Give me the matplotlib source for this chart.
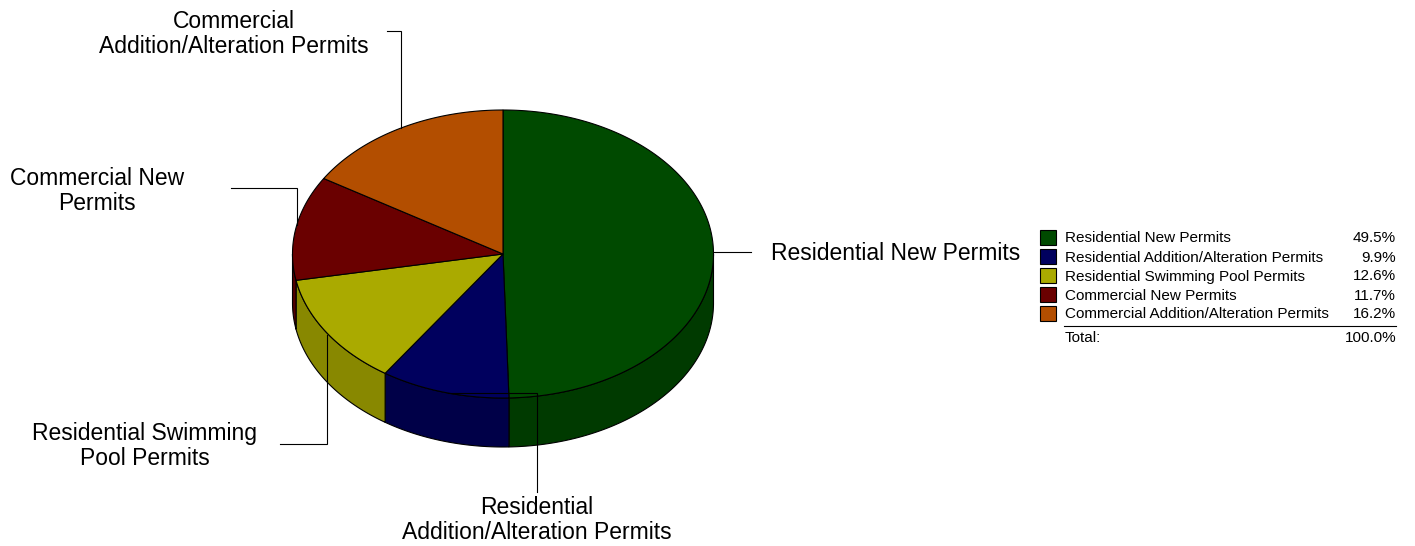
import numpy as np
import matplotlib
matplotlib.use('Agg')
import matplotlib.pyplot as plt
from matplotlib.patches import Polygon, Rectangle

plt.rcParams['font.family'] = ['Liberation Sans', 'DejaVu Sans']

categories = ['Residential New Permits', 'Residential Addition/Alteration Permits',
              'Residential Swimming Pool Permits', 'Commercial New Permits',
              'Commercial Addition/Alteration Permits']
shares = [49.5, 9.9, 12.6, 11.7, 16.2]
share_labels = ['49.5%', '9.9%', '12.6%', '11.7%', '16.2%']
total_label = '100.0%'
top_colors = ['#004a00', '#00005e', '#aaaa00', '#6a0000', '#b34e00']
side_colors = ['#003a00', '#000048', '#888800', '#520000', '#8a3c00']

# Pie callouts: text, text centre, leader line
callouts = [
    ('Residential New Permits', (896, 253), [(714, 252), (751, 252)]),
    ('Residential\nAddition/Alteration Permits', (537, 520), [(448, 393), (537, 393), (537, 492)]),
    ('Residential Swimming\nPool Permits', (145, 446), [(327, 335), (327, 444), (280, 444)]),
    ('Commercial New\nPermits', (97, 191), [(297, 225), (297, 188), (231, 188)]),
    ('Commercial\nAddition/Alteration Permits', (234, 34), [(401, 128), (401, 31), (387, 31)]),
]

cx, cy = 503, 254
rx, ry = 210.5, 144
depth = 49


def rim(a0, a1, n=200):
    t = np.radians(np.linspace(a0, a1, n))
    return cx + rx * np.sin(t), cy - ry * np.cos(t)


fig = plt.figure(figsize=(14.15, 5.46), dpi=100)
ax = fig.add_axes([0, 0, 1, 1])
ax.set_xlim(0, 1415)
ax.set_ylim(546, 0)
ax.axis('off')

edges = np.concatenate([[0], np.cumsum(shares)]) / sum(shares) * 360

# Side wall, only the front half of the rim shows
for i in range(len(shares)):
    a0, a1 = max(edges[i], 90), min(edges[i + 1], 270)
    if a1 <= a0:
        continue
    x, y = rim(a0, a1)
    pts = np.r_[np.c_[x, y], np.c_[x[::-1], y[::-1] + depth]]
    ax.add_patch(Polygon(pts, closed=True, fc=side_colors[i], ec='black', lw=0.8, zorder=2))

# Top face
for i in range(len(shares)):
    x, y = rim(edges[i], edges[i + 1])
    pts = np.r_[[[cx, cy]], np.c_[x, y]]
    ax.add_patch(Polygon(pts, closed=True, fc=top_colors[i], ec='black', lw=0.8, zorder=3))

# Callouts
for text, (tx, ty), line in callouts:
    lx, ly = zip(*line)
    ax.plot(lx, ly, color='black', lw=0.8, zorder=4, solid_joinstyle='miter')
    ax.text(tx, ty, text, ha='center', va='center', fontsize=16.5, linespacing=1.14, color='black')

# Legend
row_y = [238, 257, 276, 295, 314]
for i, name in enumerate(categories):
    ax.add_patch(Rectangle((1040, row_y[i] - 8), 15.5, 15, fc=top_colors[i], ec='black', lw=0.8, zorder=3))
    ax.text(1065, row_y[i] + 0.5, name, ha='left', va='center', fontsize=11)
    ax.text(1396, row_y[i] + 0.5, share_labels[i], ha='right', va='center', fontsize=11)
ax.plot([1064, 1396], [325.5, 325.5], color='black', lw=0.8)
ax.text(1065, 337.5, 'Total:', ha='left', va='center', fontsize=11)
ax.text(1396, 337.5, total_label, ha='right', va='center', fontsize=11)

fig.savefig('out.png', dpi=100)
